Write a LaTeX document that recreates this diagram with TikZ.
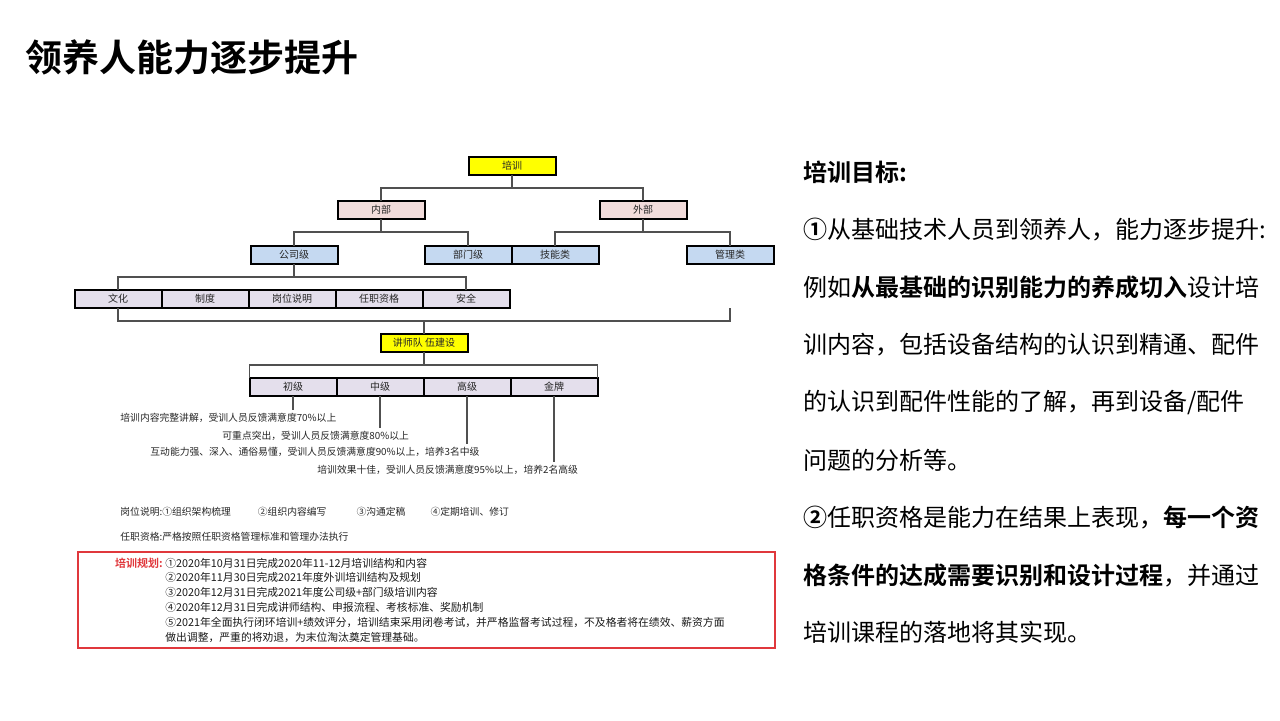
\documentclass[tikz,border=0pt]{standalone}
\usepackage{fontspec}
\setmainfont{Noto Sans CJK SC}[BoldFont={* Bold}]
\usepackage{tikz}
\usetikzlibrary{positioning,calc}
\definecolor{trainyellow}{HTML}{FFFF00}
\definecolor{partpink}{HTML}{F2DCDB}
\definecolor{groupblue}{HTML}{C5D9F1}
\definecolor{itemlav}{HTML}{E4DFEC}
\definecolor{planred}{HTML}{E0383C}
\definecolor{linkgray}{HTML}{505050}

\begin{document}
\begin{tikzpicture}[x=0.5pt,y=-0.5pt,
  box node/.style={draw=black,line width=1pt,minimum width=43.5pt,minimum height=9pt,
    inner sep=0pt,outer sep=0pt,font=\fontsize{5pt}{6pt}\selectfont,text=black!85},
  top node/.style={box node,fill=trainyellow},
  part node/.style={box node,fill=partpink},
  group node/.style={box node,fill=groupblue},
  item node/.style={box node,fill=itemlav},
  link/.style={draw=linkgray,line width=0.6pt},
  note/.style={inner sep=0pt,anchor=west,font=\fontsize{4.9pt}{6pt}\selectfont,text=black!85},
  plan line/.style={inner sep=0pt,anchor=west,font=\fontsize{5.4pt}{6pt}\selectfont,text=black!90},
  goal line/.style={inner sep=0pt,anchor=west,font=\fontsize{12pt}{14pt}\selectfont,text=black}]
  \useasboundingbox (0,0) rectangle (1280,720);

  % title
  \node[anchor=west,inner sep=0pt,font=\fontsize{18.5pt}{20pt}\selectfont\bfseries] (title) at (25,57) {领养人能力逐步提升};

  % tree
  \node[top node] (train) at (512,166) {培训};
  \node[part node] (inner) at (381,210) {内部};
  \node[part node] (outer) at (643,210) {外部};
  \node[group node] (company) at (294,255) {公司级};
  \node[group node] (dept) at (468,255) {部门级};
  \node[group node] (skill) at (555,255) {技能类};
  \node[group node] (mgmt) at (730,255) {管理类};

  \node[item node] (culture) at (118,299) {文化};
  \node[item node,right=0pt of culture] (rules) {制度};
  \node[item node,right=0pt of rules] (post) {岗位说明};
  \node[item node,right=0pt of post] (qual) {任职资格};
  \node[item node,right=0pt of qual] (safety) {安全};

  \node[top node] (lecturer) at (424,343) {讲师队 伍建设};
  \node[item node] (junior) at (293,387) {初级};
  \node[item node,right=0pt of junior] (middle) {中级};
  \node[item node,right=0pt of middle] (senior) {高级};
  \node[item node,right=0pt of senior] (gold) {金牌};

  \coordinate (mgmtend) at (mgmt |- culture.south);

  \draw[link] (train.south) -- ++(0,13);
  \draw[link] (inner.north) |- ($(train.south)+(0,13)$) -| (outer.north);
  \draw[link] (inner.south) -- ++(0,13);
  \draw[link] (company.north) |- ($(inner.south)+(0,13)$) -| (dept.north);
  \draw[link] (outer.south) -- ++(0,13);
  \draw[link] (skill.north) |- ($(outer.south)+(0,13)$) -| (mgmt.north);
  \draw[link] (company.south) -- ++(0,13);
  \draw[link] (culture.north) |- ($(company.south)+(0,13)$) -| (safety.north);
  \draw[link] (lecturer.north) -- ++(0,-13);
  \draw[link] (culture.south) |- ($(lecturer.north)+(0,-13)$) -| (mgmtend);
  \draw[link] (lecturer.south) -- ++(0,13);
  \draw[link] (junior.north west) |- ($(lecturer.south)+(0,13)$) -| (gold.north east);

  % level notes
  \node[note] (t1) at (120,418) {培训内容完整讲解，受训人员反馈满意度70\%以上};
  \node[note] (t2) at (222,436) {可重点突出，受训人员反馈满意度80\%以上};
  \node[note] (t3) at (150,452) {互动能力强、深入、通俗易懂，受训人员反馈满意度90\%以上，培养3名中级};
  \node[note] (t4) at (317,470) {培训效果十佳，受训人员反馈满意度95\%以上，培养2名高级};
  \draw[link,shorten >=1.5pt] (junior.south) -- (junior.south |- t1.north);
  \draw[link,shorten >=1.5pt] (middle.south) -- (middle.south |- t2.north);
  \draw[link,shorten >=1.5pt] (senior.south) -- (senior.south |- t3.north);
  \draw[link,shorten >=1.5pt] (gold.south) -- (gold.south |- t4.north);

  \node[note] (postnote) at (120,512) {岗位说明:①组织架构梳理\hspace{13.5pt}②组织内容编写\hspace{15pt}③沟通定稿\hspace{12.5pt}④定期培训、修订};
  \node[note] (qualnote) at (120,537) {任职资格:严格按照任职资格管理标准和管理办法执行};

  % plan
  \draw[planred,line width=0.8pt] (78,552) rectangle (775,648);
  \foreach \txt [count=\i] in {
    {①2020年10月31日完成2020年11-12月培训结构和内容},
    {②2020年11月30日完成2021年度外训培训结构及规划},
    {③2020年12月31日完成2021年度公司级+部门级培训内容},
    {④2020年12月31日完成讲师结构、申报流程、考核标准、奖励机制},
    {⑤2021年全面执行闭环培训+绩效评分，培训结束采用闭卷考试，并严格监督考试过程，不及格者将在绩效、薪资方面},
    {做出调整，严重的将劝退，为末位淘汰奠定管理基础。}}
    \node[plan line] (plan\i) at (165,{563+14.8*(\i-1)}) {\txt};
  \node[plan line,anchor=east,text=planred,font=\fontsize{5.5pt}{6pt}\selectfont\bfseries] (planlabel) at ([xshift=-1pt]plan1.west) {培训规划:};

  % goals
  \foreach \txt [count=\i] in {
    {\textbf{培训目标:}},
    {\textbf{①}从基础技术人员到领养人，能力逐步提升:},
    {例如\textbf{从最基础的识别能力的养成切入}设计培},
    {训内容，包括设备结构的认识到精通、配件},
    {的认识到配件性能的了解，再到设备/配件},
    {问题的分析等。},
    {\textbf{②}任职资格是能力在结果上表现，\textbf{每一个资}},
    {\textbf{格条件的达成需要识别和设计过程}，并通过},
    {培训课程的落地将其实现。}}
    \node[goal line] (goal\i) at (803,{172+57.6*(\i-1)}) {\txt};
\end{tikzpicture}
\end{document}
